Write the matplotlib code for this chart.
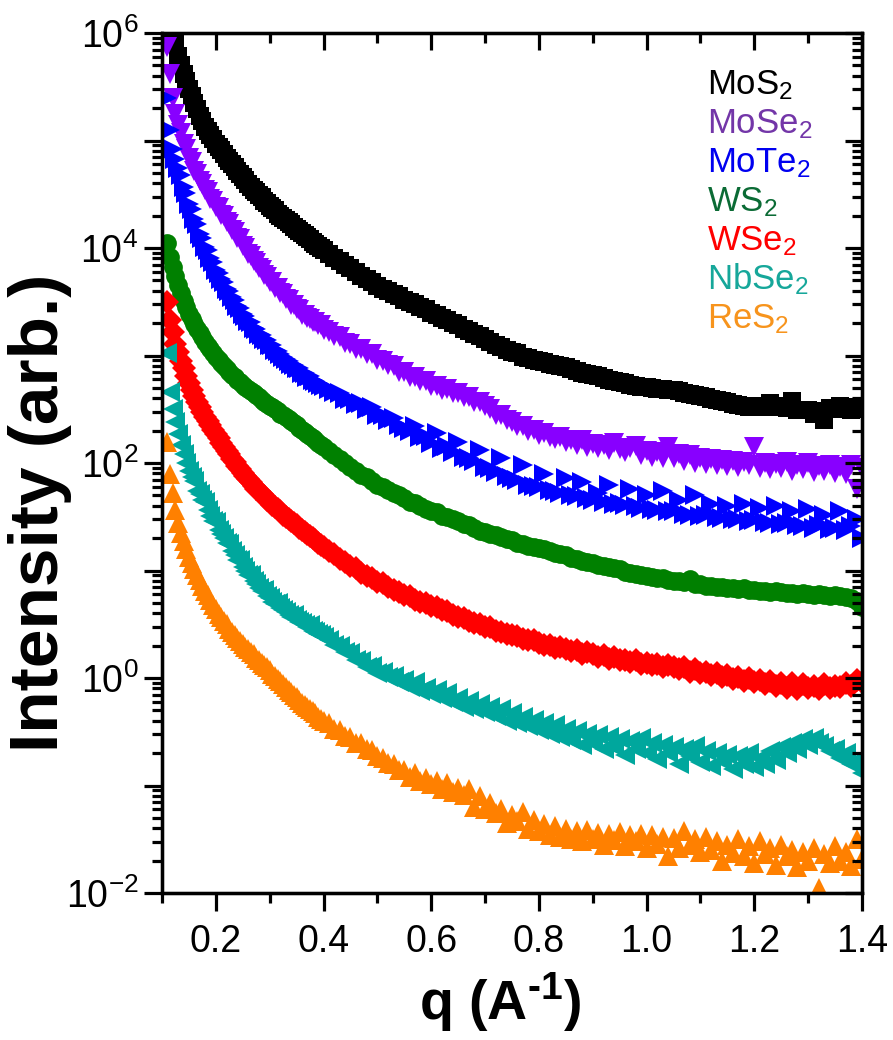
import numpy as np
import matplotlib
matplotlib.use("Agg")
import matplotlib.pyplot as plt
from matplotlib.ticker import FixedLocator, LogLocator, FuncFormatter, NullFormatter

# ---------------------------------------------------------------- data
# scattering vector q (1/Angstrom): fine sampling at low q, coarser above 0.4
q_low = [0.110, 0.115, 0.120, 0.125, 0.130, 0.135, 0.140, 0.145, 0.150, 0.155,
         0.160, 0.165, 0.170, 0.175, 0.180, 0.185, 0.190, 0.195, 0.200, 0.205,
         0.210, 0.215, 0.220, 0.225, 0.230, 0.235, 0.240, 0.245, 0.250, 0.255,
         0.260, 0.265, 0.270, 0.275, 0.280, 0.285, 0.290, 0.295, 0.300, 0.305,
         0.310, 0.315, 0.320, 0.325, 0.330, 0.335, 0.340, 0.345, 0.350, 0.355,
         0.360, 0.365, 0.370, 0.375, 0.380, 0.385, 0.390, 0.395, 0.400]
q_high = [0.41, 0.42, 0.43, 0.44, 0.45, 0.46, 0.47, 0.48, 0.49, 0.50,
          0.51, 0.52, 0.53, 0.54, 0.55, 0.56, 0.57, 0.58, 0.59, 0.60,
          0.61, 0.62, 0.63, 0.64, 0.65, 0.66, 0.67, 0.68, 0.69, 0.70,
          0.71, 0.72, 0.73, 0.74, 0.75, 0.76, 0.77, 0.78, 0.79, 0.80,
          0.81, 0.82, 0.83, 0.84, 0.85, 0.86, 0.87, 0.88, 0.89, 0.90,
          0.91, 0.92, 0.93, 0.94, 0.95, 0.96, 0.97, 0.98, 0.99, 1.00,
          1.01, 1.02, 1.03, 1.04, 1.05, 1.06, 1.07, 1.08, 1.09, 1.10,
          1.11, 1.12, 1.13, 1.14, 1.15, 1.16, 1.17, 1.18, 1.19, 1.20,
          1.21, 1.22, 1.23, 1.24, 1.25, 1.26, 1.27, 1.28, 1.29, 1.30,
          1.31, 1.32, 1.33, 1.34, 1.35, 1.36, 1.37, 1.38, 1.39, 1.40]

# log10 of intensity (arb. units), one list per material
nan = float("nan")
log_mos2 = [nan, nan, 5.98, 5.90, 5.79, 5.70, 5.62, 5.55, 5.48, 5.41,
            5.35, 5.29, 5.23, 5.18, 5.13, 5.09, 5.05, 5.01, 4.97, 4.94,
            4.91, 4.87, 4.84, 4.81, 4.78, 4.75, 4.72, 4.69, 4.66, 4.63,
            4.60, 4.57, 4.54, 4.52, 4.49, 4.47, 4.44, 4.42, 4.39, 4.37,
            4.35, 4.32, 4.30, 4.28, 4.26, 4.24, 4.22, 4.20, 4.18, 4.16,
            4.14, 4.12, 4.10, 4.08, 4.06, 4.04, 4.02, 4.00, 3.98,
            3.94, 3.91, 3.88, 3.84, 3.81, 3.78, 3.74, 3.71, 3.68, 3.65,
            3.62, 3.60, 3.57, 3.55, 3.52, 3.50, 3.48, 3.45, 3.43, 3.40,
            3.38, 3.35, 3.33, 3.30, 3.28, 3.25, 3.23, 3.20, 3.18, 3.15,
            3.13, 3.10, 3.08, 3.05, 3.03, 3.02, 2.99, 2.98, 2.96, 2.95,
            2.94, 2.92, 2.91, 2.90, 2.89, 2.87, 2.86, 2.84, 2.83, 2.82,
            2.81, 2.79, 2.77, 2.76, 2.75, 2.74, 2.73, 2.72, 2.71, 2.71,
            2.70, 2.69, 2.69, 2.68, 2.68, 2.67, 2.65, 2.64, 2.63, 2.62,
            2.61, 2.60, 2.59, 2.58, 2.57, 2.55, 2.54, 2.53, 2.52, 2.52,
            2.53, 2.52, 2.56, 2.53, 2.52, 2.51, 2.58, 2.49, 2.49, 2.49,
            2.46, 2.48, 2.40, 2.51, 2.50, 2.53, 2.51, 2.49, 2.52, 2.50]

log_mose2 = [5.87, 5.62, 5.40, 5.25, 5.14, 5.07, 4.97, 4.92, 4.84, 4.80,
             4.72, 4.69, 4.62, 4.60, 4.54, 4.52, 4.46, 4.44, 4.38, 4.37,
             4.31, 4.30, 4.24, 4.22, 4.17, 4.15, 4.09, 4.08, 4.02, 4.00,
             3.94, 3.93, 3.88, 3.86, 3.81, 3.80, 3.75, 3.73, 3.68, 3.68,
             3.63, 3.63, 3.58, 3.57, 3.53, 3.52, 3.47, 3.47, 3.43, 3.42,
             3.38, 3.38, 3.35, 3.34, 3.31, 3.31, 3.28, 3.28, 3.24,
             3.22, 3.18, 3.17, 3.12, 3.11, 3.06, 3.06, 3.01, 3.01, 2.96,
             2.95, 2.91, 2.90, 2.85, 2.85, 2.80, 2.80, 2.76, 2.76, 2.72,
             2.72, 2.68, 2.69, 2.65, 2.65, 2.61, 2.61, 2.57, 2.57, 2.53,
             2.50, 2.45, 2.45, 2.40, 2.38, 2.34, 2.34, 2.30, 2.31, 2.26,
             2.28, 2.24, 2.22, 2.24, 2.20, 2.21, 2.17, 2.21, 2.15, 2.18,
             2.14, 2.17, 2.12, 2.19, 2.13, 2.10, 2.14, 2.16, 2.07, 2.11,
             2.06, 2.10, 2.05, 2.15, 2.05, 2.08, 2.02, 2.07, 2.00, 2.05,
             1.99, 2.04, 1.98, 2.03, 1.97, 2.02, 1.96, 2.01, 1.98, 2.15,
             1.95, 2.00, 1.94, 1.99, 1.95, 2.01, 1.93, 1.98, 1.94, 2.00,
             1.92, 1.97, 1.93, 1.98, 1.91, 1.96, 1.90, 1.98, 1.76, 1.95]

log_mote2 = [5.40, 5.10, 4.92, 4.83, 4.74, 4.68, 4.57, 4.51, 4.41, 4.36,
             4.27, 4.22, 4.13, 4.09, 4.01, 3.98, 3.91, 3.87, 3.80, 3.77,
             3.71, 3.68, 3.62, 3.60, 3.54, 3.52, 3.46, 3.44, 3.39, 3.37,
             3.32, 3.31, 3.26, 3.25, 3.20, 3.19, 3.15, 3.14, 3.10, 3.10,
             3.05, 3.04, 3.01, 2.99, 2.97, 2.95, 2.92, 2.91, 2.88, 2.88,
             2.84, 2.84, 2.80, 2.81, 2.77, 2.76, 2.74, 2.73, 2.72,
             2.69, 2.66, 2.65, 2.60, 2.60, 2.55, 2.56, 2.50, 2.52, 2.45,
             2.45, 2.40, 2.42, 2.35, 2.33, 2.30, 2.34, 2.24, 2.25, 2.19,
             2.28, 2.14, 2.16, 2.10, 2.20, 2.06, 2.05, 2.02, 2.12, 1.96,
             1.95, 1.92, 2.05, 1.88, 1.86, 1.84, 1.98, 1.80, 1.79, 1.78,
             1.90, 1.75, 1.74, 1.72, 1.86, 1.70, 1.69, 1.82, 1.67, 1.66,
             1.72, 1.64, 1.80, 1.62, 1.63, 1.61, 1.76, 1.60, 1.58, 1.70,
             1.57, 1.56, 1.74, 1.55, 1.55, 1.66, 1.53, 1.52, 1.70, 1.51,
             1.52, 1.62, 1.50, 1.49, 1.60, 1.48, 1.48, 1.62, 1.46, 1.47,
             1.58, 1.45, 1.44, 1.60, 1.43, 1.44, 1.55, 1.42, 1.41, 1.57,
             1.40, 1.42, 1.52, 1.39, 1.40, 1.55, 1.38, 1.41, 1.48, 1.30]

log_ws2 = [4.05, 3.92, 3.82, 3.74, 3.66, 3.58, 3.51, 3.45, 3.39, 3.34,
           3.29, 3.25, 3.21, 3.17, 3.13, 3.09, 3.06, 3.02, 2.99, 2.96,
           2.93, 2.90, 2.87, 2.85, 2.82, 2.80, 2.77, 2.75, 2.73, 2.71,
           2.69, 2.67, 2.65, 2.63, 2.61, 2.59, 2.57, 2.55, 2.53, 2.52,
           2.50, 2.48, 2.46, 2.45, 2.43, 2.41, 2.39, 2.37, 2.35, 2.33,
           2.31, 2.29, 2.27, 2.25, 2.23, 2.21, 2.19, 2.17, 2.15,
           2.11, 2.07, 2.04, 2.00, 1.96, 1.93, 1.89, 1.87, 1.83, 1.80,
           1.78, 1.75, 1.72, 1.70, 1.67, 1.64, 1.63, 1.60, 1.57, 1.55,
           1.54, 1.51, 1.50, 1.48, 1.46, 1.43, 1.42, 1.40, 1.37, 1.36,
           1.34, 1.33, 1.31, 1.29, 1.28, 1.26, 1.25, 1.23, 1.22, 1.21,
           1.20, 1.18, 1.16, 1.15, 1.14, 1.12, 1.11, 1.09, 1.08, 1.07,
           1.05, 1.04, 1.03, 1.02, 1.01, 0.99, 0.98, 0.97, 0.96, 0.95,
           0.94, 0.93, 0.93, 0.91, 0.90, 0.90, 0.89, 0.92, 0.87, 0.87,
           0.86, 0.86, 0.85, 0.85, 0.84, 0.84, 0.83, 0.84, 0.82, 0.82,
           0.81, 0.81, 0.80, 0.81, 0.80, 0.79, 0.79, 0.78, 0.79, 0.78,
           0.77, 0.78, 0.77, 0.76, 0.77, 0.76, 0.75, 0.74, 0.72, 0.66]

log_wse2 = [3.50, 3.33, 3.22, 3.11, 3.03, 2.95, 2.88, 2.81, 2.74, 2.68,
            2.62, 2.57, 2.52, 2.47, 2.43, 2.39, 2.35, 2.31, 2.27, 2.23,
            2.19, 2.15, 2.11, 2.08, 2.04, 2.01, 1.97, 1.94, 1.91, 1.88,
            1.85, 1.82, 1.79, 1.76, 1.74, 1.71, 1.69, 1.66, 1.64, 1.61,
            1.59, 1.57, 1.55, 1.52, 1.50, 1.48, 1.46, 1.44, 1.42, 1.40,
            1.38, 1.36, 1.34, 1.32, 1.30, 1.28, 1.26, 1.24, 1.22,
            1.18, 1.15, 1.11, 1.08, 1.04, 1.02, 0.98, 0.95, 0.93, 0.89,
            0.88, 0.85, 0.82, 0.80, 0.77, 0.76, 0.73, 0.71, 0.70, 0.67,
            0.66, 0.63, 0.62, 0.59, 0.57, 0.56, 0.53, 0.51, 0.50, 0.47,
            0.47, 0.44, 0.43, 0.41, 0.40, 0.39, 0.36, 0.35, 0.35, 0.33,
            0.31, 0.31, 0.28, 0.29, 0.27, 0.25, 0.26, 0.22, 0.24, 0.22,
            0.20, 0.21, 0.18, 0.20, 0.17, 0.17, 0.15, 0.17, 0.13, 0.14,
            0.12, 0.13, 0.10, 0.12, 0.10, 0.08, 0.10, 0.06, 0.08, 0.05,
            0.06, 0.03, 0.05, 0.01, 0.03, -0.01, 0.01, -0.03, 0.00, -0.04,
            -0.02, -0.06, -0.03, -0.07, -0.05, -0.09, -0.05, -0.10, -0.06, -0.09,
            -0.07, -0.10, -0.06, -0.09, -0.07, -0.08, -0.05, -0.07, -0.02, -0.04]

log_nbse2 = [3.02, 2.66, 2.50, 2.38, 2.27, 2.17, 2.08, 2.00, 1.93, 1.87,
             1.83, 1.74, 1.71, 1.66, 1.64, 1.56, 1.51, 1.46, 1.45, 1.38,
             1.34, 1.30, 1.26, 1.25, 1.18, 1.14, 1.10, 1.10, 1.03, 1.00,
             0.96, 0.96, 0.90, 0.87, 0.84, 0.81, 0.82, 0.76, 0.74, 0.71,
             0.69, 0.70, 0.65, 0.63, 0.61, 0.59, 0.57, 0.59, 0.54, 0.52,
             0.51, 0.49, 0.47, 0.49, 0.44, 0.43, 0.41, 0.40, 0.38,
             0.35, 0.31, 0.30, 0.24, 0.23, 0.17, 0.16, 0.10, 0.11, 0.05,
             0.06, 0.01, 0.02, -0.04, -0.02, -0.08, -0.04, -0.12, -0.09, -0.15,
             -0.11, -0.19, -0.14, -0.22, -0.19, -0.27, -0.21, -0.29, -0.24, -0.32,
             -0.27, -0.35, -0.29, -0.40, -0.33, -0.42, -0.36, -0.45, -0.39, -0.48,
             -0.42, -0.52, -0.44, -0.55, -0.47, -0.58, -0.49, -0.62, -0.52, -0.60,
             -0.53, -0.66, -0.55, -0.64, -0.57, -0.72, -0.59, -0.66, -0.56, -0.70,
             -0.60, -0.75, -0.62, -0.70, -0.64, -0.80, -0.66, -0.73, -0.63, -0.78,
             -0.68, -0.82, -0.70, -0.77, -0.72, -0.85, -0.73, -0.80, -0.70, -0.83,
             -0.74, -0.80, -0.68, -0.76, -0.64, -0.70, -0.60, -0.66, -0.57, -0.62,
             -0.56, -0.60, -0.63, -0.68, -0.66, -0.74, -0.70, -0.80, -0.76, -0.88]

log_res2 = [2.20, 1.90, 1.72, 1.56, 1.44, 1.35, 1.27, 1.20, 1.13, 1.07,
            1.01, 0.96, 0.91, 0.86, 0.81, 0.77, 0.73, 0.68, 0.64, 0.60,
            0.57, 0.53, 0.50, 0.46, 0.43, 0.40, 0.37, 0.34, 0.32, 0.29,
            0.27, 0.24, 0.22, 0.19, 0.17, 0.14, 0.12, 0.10, 0.07, 0.04,
            0.02, -0.01, -0.03, -0.06, -0.08, -0.11, -0.13, -0.16, -0.18, -0.20,
            -0.23, -0.25, -0.27, -0.29, -0.31, -0.33, -0.36, -0.38, -0.40,
            -0.42, -0.47, -0.48, -0.54, -0.55, -0.60, -0.60, -0.66, -0.67, -0.73,
            -0.74, -0.79, -0.80, -0.86, -0.86, -0.92, -0.88, -0.96, -0.93, -0.99,
            -0.96, -1.03, -0.98, -1.06, -1.02, -1.09, -1.03, -1.20, -1.10, -1.22,
            -1.16, -1.26, -1.22, -1.35, -1.27, -1.33, -1.25, -1.40, -1.32, -1.42,
            -1.36, -1.46, -1.38, -1.48, -1.40, -1.50, -1.42, -1.52, -1.41, -1.50,
            -1.44, -1.55, -1.45, -1.51, -1.43, -1.56, -1.46, -1.52, -1.45, -1.58,
            -1.46, -1.54, -1.48, -1.66, -1.49, -1.58, -1.42, -1.55, -1.50, -1.62,
            -1.48, -1.60, -1.52, -1.70, -1.55, -1.63, -1.50, -1.66, -1.56, -1.72,
            -1.52, -1.64, -1.58, -1.74, -1.55, -1.66, -1.60, -1.76, -1.62, -1.70,
            -1.58, -1.95, -1.64, -1.72, -1.56, -1.70, -1.62, -1.75, -1.50, -1.68]

names = ["MoS$_2$", "MoSe$_2$", "MoTe$_2$", "WS$_2$", "WSe$_2$", "NbSe$_2$", "ReS$_2$"]
series = [log_mos2, log_mose2, log_mote2, log_ws2, log_wse2, log_nbse2, log_res2]

x_major = [0.2, 0.4, 0.6, 0.8, 1.0, 1.2, 1.4]
x_minor = [0.1, 0.3, 0.5, 0.7, 0.9, 1.1, 1.3]

# ---------------------------------------------------------------- style
marker_colors = ["#000000", "#8800FF", "#0000FF", "#008000", "#FF0000", "#00A79D", "#FF8000"]
text_colors = ["#000000", "#7336A8", "#0000F0", "#0B6B35", "#FF0000", "#16A79A", "#F7941D"]
markers = ["s", "v", ">", "o", "D", "<", "^"]
sizes = [13.0, 15.0, 15.0, 13.5, 12.0, 15.0, 15.0]

plt.rcParams["font.family"] = ["Liberation Sans", "DejaVu Sans"]
plt.rcParams["mathtext.fontset"] = "custom"
plt.rcParams["mathtext.rm"] = "Liberation Sans"
plt.rcParams["mathtext.it"] = "Liberation Sans:italic"
plt.rcParams["mathtext.bf"] = "Liberation Sans:bold"

W, H = 893, 1040
fig = plt.figure(figsize=(W / 100, H / 100), dpi=100)
ax = fig.add_axes([162 / W, 1 - 893 / H, 700 / W, 860 / H])

q = np.array(q_low + q_high)
for logI, m, c, s in zip(series, markers, marker_colors, sizes):
    ax.plot(q, np.power(10.0, np.array(logI)), linestyle="none", marker=m,
            ms=s, color=c, mec=c, mew=0)

ax.set_yscale("log")
ax.set_xlim(0.1, 1.4)
ax.set_ylim(1e-2, 1e6)

ax.xaxis.set_major_locator(FixedLocator(x_major))
ax.xaxis.set_minor_locator(FixedLocator(x_minor))
ax.xaxis.set_major_formatter(FuncFormatter(lambda v, p: f"{v:.1f}"))
ax.yaxis.set_major_locator(LogLocator(base=10, numticks=20))
ax.yaxis.set_minor_locator(LogLocator(base=10, subs=np.arange(2, 10), numticks=20))
ax.yaxis.set_minor_formatter(NullFormatter())


def decade_label(v, pos):
    e = int(round(np.log10(v)))
    return f"10$^{{{e}}}$" if e % 2 == 0 else ""


ax.yaxis.set_major_formatter(FuncFormatter(decade_label))

lw = 2.3
for sp in ax.spines.values():
    sp.set_linewidth(lw)
ax.tick_params(axis="both", which="both", direction="out", width=lw,
               top=False, right=False, labelsize=27, colors="black")
ax.tick_params(axis="y", which="major", length=13, pad=4)
ax.tick_params(axis="y", which="minor", length=7.5)
ax.tick_params(axis="x", which="major", length=13, pad=9)
ax.tick_params(axis="x", which="minor", length=7.5)

# mirrored ticks on the top and right edges, pointing inward
axr = ax.twinx()
axr.set_yscale("log")
axr.set_ylim(ax.get_ylim())
axr.yaxis.set_major_locator(LogLocator(base=10, numticks=20))
axr.yaxis.set_minor_locator(LogLocator(base=10, subs=np.arange(2, 10), numticks=20))
axr.yaxis.set_major_formatter(NullFormatter())
axr.yaxis.set_minor_formatter(NullFormatter())
axr.tick_params(axis="y", which="both", direction="in", width=lw)
axr.tick_params(axis="y", which="major", length=12)
axr.tick_params(axis="y", which="minor", length=7)

axt = ax.twiny()
axt.set_xlim(ax.get_xlim())
axt.xaxis.set_major_locator(FixedLocator(x_major))
axt.xaxis.set_minor_locator(FixedLocator(x_minor))
axt.xaxis.set_major_formatter(NullFormatter())
axt.tick_params(axis="x", which="both", direction="in", width=lw)
axt.tick_params(axis="x", which="major", length=12)
axt.tick_params(axis="x", which="minor", length=7)
for a in (axr, axt):
    for sp in a.spines.values():
        sp.set_linewidth(lw)

# axis titles
fig.text(40 / W, 1 - 513 / H, "Intensity (arb.)", rotation=90, ha="center",
         va="center", fontsize=50, fontweight="bold")
fig.text(500 / W, 1 - 1002 / H, "q (A$^{\\mathbf{\u2010}\\mathbf{1}}$)", ha="center",
         va="center", fontsize=40, fontweight="bold")

# coloured material names
for i, (name, c) in enumerate(zip(names, text_colors)):
    fig.text(707 / W, 1 - (94 + 39 * i) / H, name, color=c, fontsize=25,
             ha="left", va="baseline")

fig.savefig("out.png", dpi=100)
